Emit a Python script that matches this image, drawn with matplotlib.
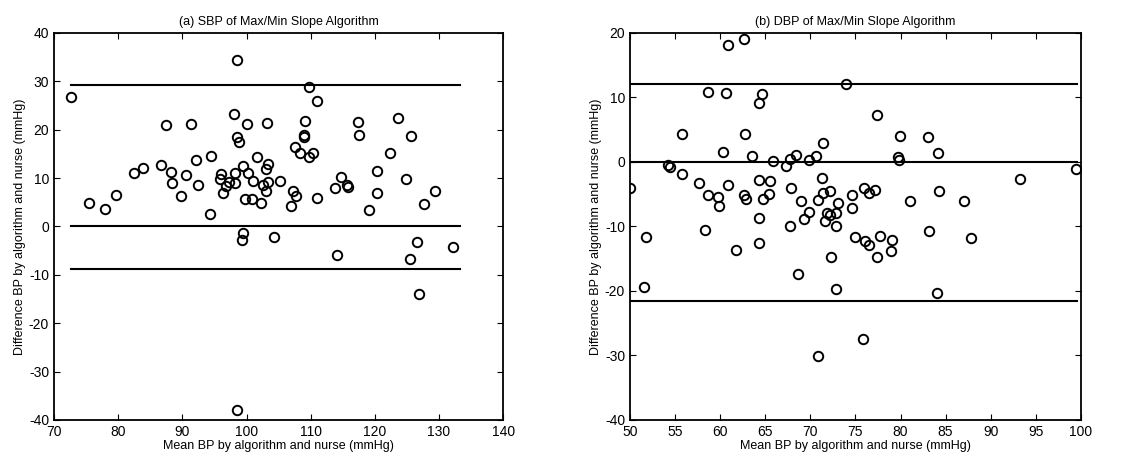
import matplotlib
matplotlib.use("Agg")
import matplotlib.pyplot as plt

plt.rcParams['font.family'] = ['Liberation Sans', 'DejaVu Sans']
plt.rcParams['axes.unicode_minus'] = False

# (a) SBP
sbp_mean = [72.6, 75.5, 78.0, 79.7, 82.4, 83.9, 86.6, 87.5, 88.2, 88.4, 89.8, 90.6,
            91.4, 92.1, 92.5, 94.4, 94.3, 96.1, 95.9, 96.4, 96.8, 97.3, 98.1, 98.5,
            98.5, 98.9, 98.2, 98.2, 99.4, 100.1, 100.2, 99.7, 101.0, 100.9, 101.6, 102.2,
            102.5, 103.0, 103.2, 103.4, 103.3, 103.1, 105.2, 106.9, 107.3, 107.7, 107.6, 108.4,
            109.1, 109.0, 108.9, 109.7, 109.7, 110.4, 111.0, 111.0, 113.8, 114.7, 115.6, 115.8,
            117.4, 117.5, 119.1, 120.3, 120.4, 122.3, 123.6, 124.9, 125.6, 127.7, 129.3,
            99.5, 99.3, 104.3, 114.1, 125.4, 126.5, 126.9, 132.2, 98.5]
sbp_diff = [26.8, 4.9, 3.7, 6.5, 11.1, 12.1, 12.7, 20.9, 11.3, 9.0, 6.2, 10.7,
            21.1, 13.7, 8.6, 14.6, 2.6, 10.9, 9.8, 6.9, 8.4, 9.1, 23.3, 34.3,
            18.4, 17.5, 11.1, 8.9, 12.5, 21.1, 11.1, 5.6, 9.4, 5.6, 14.4, 4.8,
            8.5, 11.9, 21.3, 13.0, 9.1, 7.3, 9.3, 4.2, 7.3, 6.2, 16.4, 15.2,
            21.8, 19.0, 18.5, 28.8, 14.4, 15.1, 26.0, 5.8, 8.0, 10.3, 8.5, 8.1,
            21.5, 18.8, 3.5, 11.4, 6.9, 15.2, 22.5, 9.8, 18.7, 4.6, 7.4,
            -1.4, -2.7, -2.1, -5.8, -6.8, -3.3, -14.0, -4.3, -37.9]
sbp_lines = [29.2, 0.0, -8.7]
sbp_span = [72.6, 133.2]

# (b) DBP
dbp_mean = [50.0, 51.8, 54.2, 54.4, 55.8, 55.8, 57.6, 58.3, 58.6, 58.7, 59.8, 59.9,
            60.3, 60.7, 60.9, 60.9, 62.6, 62.8, 62.6, 62.9, 63.5, 64.3, 64.6, 64.3,
            64.8, 65.4, 65.5, 64.3, 65.9, 67.3, 67.7, 68.4, 67.9, 69.0, 67.8, 69.3,
            69.9, 69.8, 70.6, 70.8, 71.3, 71.4, 71.4, 72.2, 71.6, 71.9, 72.2, 72.9,
            73.1, 72.9, 74.0, 74.6, 74.6, 76.0, 76.5, 77.2, 77.4, 79.7, 79.8, 79.9,
            81.0, 83.1, 83.2, 84.2, 84.3, 87.0, 93.2, 99.5,
            51.6, 61.8, 64.3, 68.6, 70.9, 72.3, 72.8, 74.9, 76.1, 76.5, 75.8, 77.4,
            77.7, 78.9, 79.0, 84.0, 87.8]
dbp_diff = [-4.0, -11.6, -0.4, -0.8, 4.3, -1.9, -3.2, -10.6, 10.9, -5.2, -5.5, -6.9,
            1.6, 10.7, 18.2, -3.6, 19.0, 4.3, -5.1, -5.8, 0.9, 9.2, 10.6, -2.8,
            -5.7, -5.0, -3.0, -8.7, 0.1, -0.6, 0.4, 1.1, -4.0, -6.1, -9.9, -8.8,
            -7.7, 0.3, 0.9, -5.9, -2.5, 3.0, -4.8, -4.5, -9.2, -7.9, -8.3, -7.9,
            -6.3, -10.0, 12.1, -5.2, -7.1, -4.0, -4.8, -4.4, 7.3, 0.8, 0.3, 4.0,
            -6.1, 3.8, -10.7, 1.4, -4.5, -6.0, -2.6, -1.1,
            -19.4, -13.7, -12.6, -17.3, -30.1, -14.7, -19.7, -11.7, -12.2, -12.9, -27.5, -14.7,
            -11.5, -13.8, -12.1, -20.3, -11.8]
dbp_lines = [12.1, 0.0, -21.6]
dbp_span = [50.0, 99.6]


def bland_altman(ax, x, y, lines, span, title, xlim, ylim, xticks, yticks):
    for v in lines:
        ax.plot(span, [v, v], color='black', lw=1.5)
    ax.plot(x, y, 'o', mfc='none', mec='black', ms=6.8, mew=1.4)
    ax.set_xlim(*xlim)
    ax.set_ylim(*ylim)
    ax.set_xticks(xticks)
    ax.set_yticks(yticks)
    ax.tick_params(direction='in', top=True, right=True, labelsize=10, length=4)
    for s in ax.spines.values():
        s.set_linewidth(1.3)
    ax.set_title(title, fontsize=9, pad=6)
    ax.set_xlabel('Mean BP by algorithm and nurse (mmHg)', fontsize=9, labelpad=1)
    ax.set_ylabel('Difference BP by algorithm and nurse (mmHg)', fontsize=9, labelpad=2)


fig = plt.figure(figsize=(11.46, 4.63), dpi=100)
ax1 = fig.add_axes([0.0471, 0.0929, 0.392, 0.836])
ax2 = fig.add_axes([0.5497, 0.0929, 0.3935, 0.836])

bland_altman(ax1, sbp_mean, sbp_diff, sbp_lines, sbp_span, '(a) SBP of Max/Min Slope Algorithm',
             (70, 140), (-40, 40), range(70, 141, 10), range(-40, 41, 10))
bland_altman(ax2, dbp_mean, dbp_diff, dbp_lines, dbp_span, '(b) DBP of Max/Min Slope Algorithm',
             (50, 100), (-40, 20), range(50, 101, 5), range(-40, 21, 10))

fig.savefig('out.png', dpi=100)
